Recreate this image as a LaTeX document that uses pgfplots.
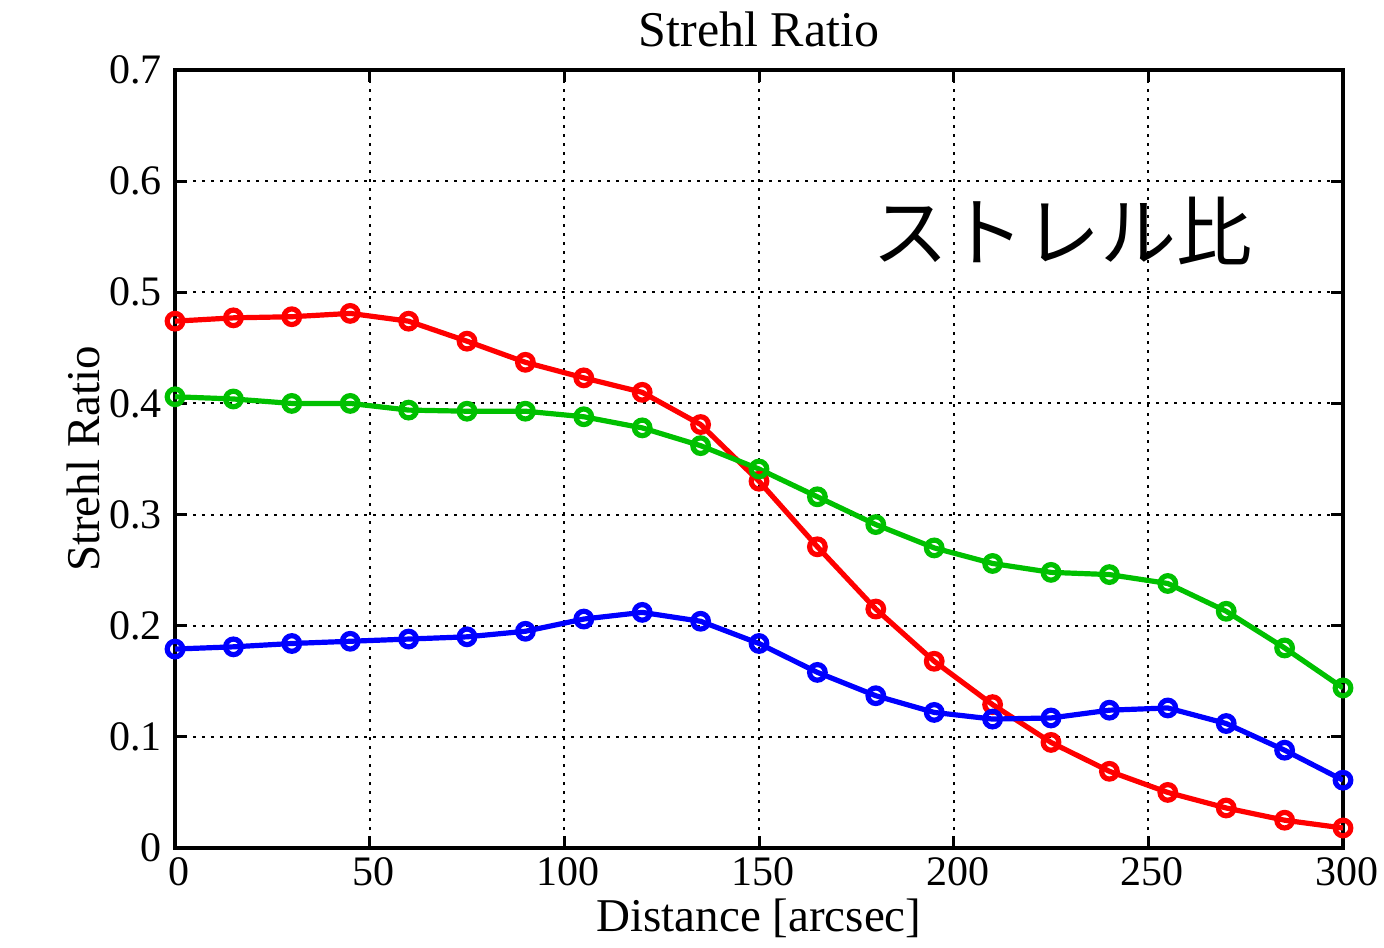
\documentclass[border=0pt]{standalone}
\usepackage{fontspec}
\setmainfont{Liberation Serif}
\newfontfamily\cjk{Noto Sans CJK JP}
\usepackage{pgfplots}
\pgfplotsset{compat=1.18}
\definecolor{mgreen}{RGB}{0,192,0}
\pgfplotsset{sr/.style={line width=2.6pt, mark=o, mark size=3.9pt, mark options={solid, line width=2.6pt}}}
\begin{document}
\begin{tikzpicture}
\begin{axis}[
  at={(0,0)}, anchor=south west,
  scale only axis, width=584pt, height=389pt,
  xmin=0, xmax=300, ymin=0, ymax=0.7,
  xtick={0,50,...,300}, ytick={0,0.1,...,0.7},
  yticklabels={0,0.1,0.2,0.3,0.4,0.5,0.6,0.7},
  /pgf/number format/assume math mode=true,
  ticklabel style={font=\fontsize{21}{24}\selectfont},
  xticklabel style={xshift=2pt, yshift=-1pt},
  yticklabel style={xshift=-3pt},
  tick align=inside, major tick length=6pt,
  tick style={black, line width=1.5pt},
  axis line style={line width=2pt},
  grid=major,
  major grid style={black, line width=1pt, dash pattern=on 1.5pt off 3pt},
  title={Strehl Ratio},
  title style={font=\fontsize{25}{28}\selectfont, yshift=2pt},
  xlabel={Distance [arcsec]},
  ylabel={Strehl Ratio},
  label style={font=\fontsize{23.5}{26}\selectfont},
  xlabel style={yshift=0pt},
  ylabel style={yshift=-2pt},
]
\addplot[red, sr] coordinates {
(0,0.474)(15,0.477)(30,0.478)(45,0.481)(60,0.474)(75,0.456)(90,0.437)(105,0.423)(120,0.410)(135,0.381)(150,0.330)(165,0.271)(180,0.215)(195,0.168)(210,0.129)(225,0.095)(240,0.069)(255,0.050)(270,0.036)(285,0.025)(300,0.018)};
\addplot[mgreen, sr] coordinates {
(0,0.406)(15,0.404)(30,0.400)(45,0.400)(60,0.394)(75,0.393)(90,0.393)(105,0.388)(120,0.378)(135,0.362)(150,0.341)(165,0.316)(180,0.291)(195,0.270)(210,0.256)(225,0.248)(240,0.246)(255,0.238)(270,0.213)(285,0.180)(300,0.144)};
\addplot[blue, sr] coordinates {
(0,0.179)(15,0.181)(30,0.184)(45,0.186)(60,0.188)(75,0.190)(90,0.195)(105,0.206)(120,0.212)(135,0.204)(150,0.184)(165,0.158)(180,0.137)(195,0.122)(210,0.116)(225,0.117)(240,0.124)(255,0.126)(270,0.112)(285,0.088)(300,0.061)};
\node[font=\cjk\fontsize{38}{40}\selectfont, anchor=center] at (axis cs:228,0.555) {ストレル比};
\end{axis}
\pgfresetboundingbox
\useasboundingbox (-87.5pt,-49.5pt) rectangle (604.5pt,424pt);
\end{tikzpicture}
\end{document}
